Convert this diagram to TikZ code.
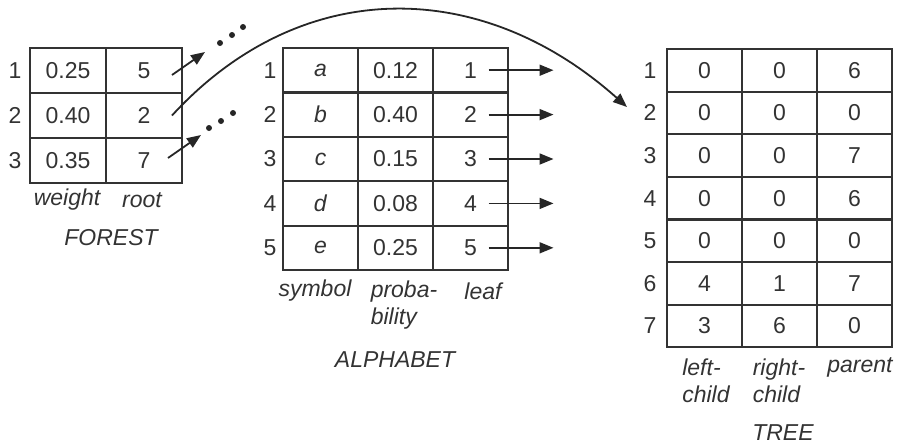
\documentclass[tikz,border=0pt]{standalone}
\usepackage{fontspec}
\setmainfont{Liberation Sans}
\usetikzlibrary{arrows.meta}

\begin{document}
\begin{tikzpicture}[x=0.5pt, y=-0.5pt, font=\fontsize{11.5}{13.5}\selectfont, text=black!80,
  cell/.style={draw=black!80, line width=1.1pt, minimum width=37.5pt, inner sep=0pt},
  arr/.style={-{Triangle[length=7pt,width=5.5pt]}, line width=0.9pt, draw=black!85},
  lbl/.style={font=\fontsize{11.5}{13.5}\selectfont\itshape, align=left}]
\useasboundingbox (0,0) rectangle (900,446);

% FOREST
\foreach \r/\w/\t in {1/0.25/5, 2/0.40/2, 3/0.35/7} {
  \node [cell, minimum width=38pt, minimum height=22.5pt] (f\r w) at (68,{48+45*(\r-0.5)}) {\w};
  \node [cell, minimum width=38pt, minimum height=22.5pt] (f\r r) at (144,{48+45*(\r-0.5)}) {\t};
  \node (f\r i) at (15,{48+45*(\r-0.5)}) {\r};
}
\node [lbl] (fw) at (67,200) {weight};
\node [lbl] (fr) at (142,200) {root};
\node [lbl] (forest) at (111,238) {FOREST};

% ALPHABET
\foreach \r/\s/\p in {1/a/0.12, 2/b/0.40, 3/c/0.15, 4/d/0.08, 5/e/0.25} {
  \node [cell, minimum height=22.2pt] (a\r s) at (320.5,{48+44.4*(\r-0.5)}) {\textit{\s}};
  \node [cell, minimum height=22.2pt] (a\r p) at (395.5,{48+44.4*(\r-0.5)}) {\p};
  \node [cell, minimum height=22.2pt] (a\r l) at (470.5,{48+44.4*(\r-0.5)}) {\r};
  \node (a\r i) at (270,{48+44.4*(\r-0.5)}) {\r};
  \draw [arr] ([xshift=9pt]a\r l.center) -- ++(65,0);
}
\node [lbl] (as) at (315,291) {symbol};
\node [lbl] (ap) at (404,305) {proba-\\bility};
\node [lbl] (al) at (483,291) {leaf};
\node [lbl] (alphabet) at (395,360) {ALPHABET};

% TREE
\foreach \r/\a/\b/\c in {1/0/0/6, 2/0/0/0, 3/0/0/7, 4/0/0/6, 5/0/0/0, 6/4/1/7, 7/3/6/0} {
  \node [cell, minimum height=21.3pt] (t\r a) at (704.5,{49+42.6*(\r-0.5)}) {\a};
  \node [cell, minimum height=21.3pt] (t\r b) at (779.5,{49+42.6*(\r-0.5)}) {\b};
  \node [cell, minimum height=21.3pt] (t\r c) at (854.5,{49+42.6*(\r-0.5)}) {\c};
  \node (t\r i) at (650,{49+42.6*(\r-0.5)}) {\r};
}
\node [lbl] (tl) at (706,381) {left-\\child};
\node [lbl] (tr) at (779,381) {right-\\child};
\node [lbl] (tp) at (860,367) {parent};
\node [lbl] (tree) at (783,433) {TREE};

% pointers out of the forest
\coordinate (uptip) at (205,52);
\coordinate (lowtip) at (201,135);
\coordinate (arcend) at (627,107);
\draw [arr] ([xshift=14pt,yshift=-2.25pt]f1r.center) -- (uptip);
\draw [arr] ([xshift=12pt,yshift=1.25pt]f3r.center) -- (lowtip);
\draw [arr] ([xshift=14pt]f2r.center) .. controls (300,-24) and (480,-24) .. (arcend);
\foreach \x/\y in {220/43, 232/35, 243/27, 209/128, 221/121, 233/113}
  \fill [black!85] (\x,\y) circle (1.5pt);
\end{tikzpicture}
\end{document}
